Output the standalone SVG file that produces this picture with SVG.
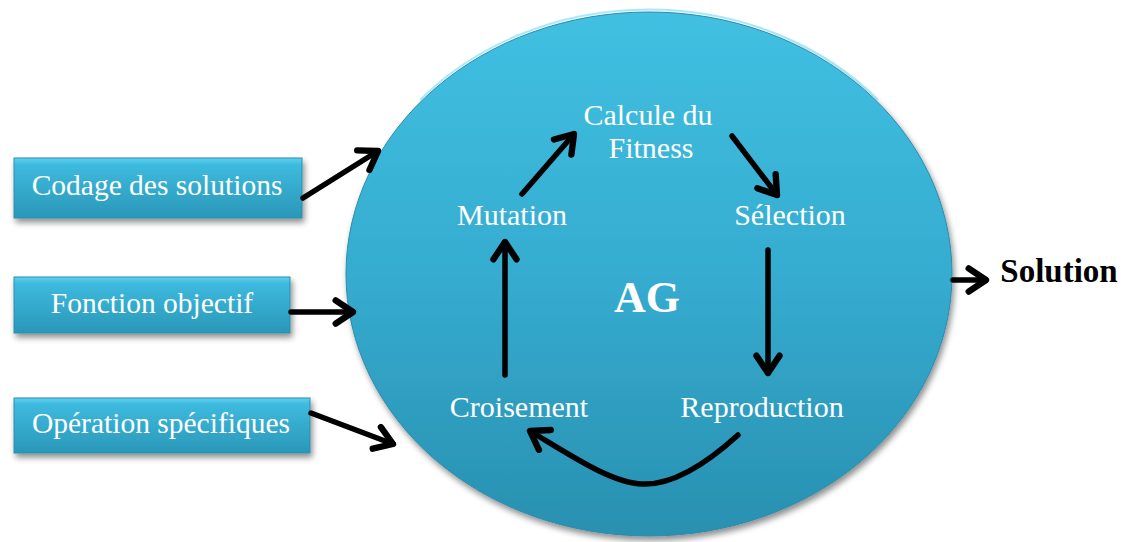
<svg xmlns="http://www.w3.org/2000/svg" width="1127" height="542" viewBox="0 0 1127 542">
<defs>
<linearGradient id="gEll" x1="0" y1="0" x2="0" y2="1">
<stop offset="0" stop-color="#40c0e2"/>
<stop offset="0.5" stop-color="#35acd0"/>
<stop offset="1" stop-color="#2990b0"/>
</linearGradient>
<linearGradient id="gBox" x1="0" y1="0" x2="0" y2="1">
<stop offset="0" stop-color="#5fd0ee"/>
<stop offset="0.12" stop-color="#3dbade"/>
<stop offset="1" stop-color="#2a97b8"/>
</linearGradient>
<filter id="sh" x="-10%" y="-10%" width="130%" height="130%">
<feGaussianBlur in="SourceAlpha" stdDeviation="3"/>
<feOffset dx="2" dy="4" result="b"/>
<feComponentTransfer><feFuncA type="linear" slope="0.45"/></feComponentTransfer>
<feMerge><feMergeNode/><feMergeNode in="SourceGraphic"/></feMerge>
</filter>
<marker id="ah" markerUnits="userSpaceOnUse" markerWidth="30" markerHeight="30" viewBox="-20 -13 24 26" refX="0" refY="0" orient="auto">
<path d="M-15,-10 L0,0 L-15,10" fill="none" stroke="#000" stroke-width="5.5" stroke-linecap="round" stroke-linejoin="round"/>
</marker>
</defs>
<style>
.box{fill:url(#gBox);stroke:#2a8fae;stroke-width:1;filter:url(#sh)}
.bt{font-family:"Liberation Serif","Times New Roman",serif;font-size:29.5px;fill:#fff;text-anchor:middle}
.it{font-family:"Liberation Serif","Times New Roman",serif;font-size:30px;fill:#fff;text-anchor:middle}
.arr{fill:none;stroke:#000;stroke-width:5.5;stroke-linecap:round;marker-end:url(#ah)}
</style>
<rect width="1127" height="542" fill="#fff"/>
<g id="ag">
<ellipse cx="649" cy="274" rx="303" ry="262" fill="url(#gEll)" stroke="#2a8cab" stroke-width="1" filter="url(#sh)"/>
<path d="M420,100 A303,262 0 0 1 878,100" fill="none" stroke="#6fdcf5" stroke-width="2" opacity="0.6"/>
<text x="647" y="312" font-family="Liberation Serif,serif" font-size="44" font-weight="bold" fill="#fff" text-anchor="middle">AG</text>
</g>
<g id="codage">
<rect class="box" x="14" y="158" width="288" height="60"/>
<text class="bt" x="157" y="195">Codage des solutions</text>
</g>
<g id="fonction">
<rect class="box" x="14" y="277" width="276" height="56"/>
<text class="bt" x="152" y="313">Fonction objectif</text>
</g>
<g id="operation">
<rect class="box" x="14" y="398" width="296" height="55"/>
<text class="bt" x="161" y="433">Opération spécifiques</text>
</g>
<g id="calcule"><text class="it" x="648" y="125">Calcule du</text><text class="it" x="651" y="158">Fitness</text></g>
<g id="selection"><text class="it" x="790" y="225">Sélection</text></g>
<g id="reproduction"><text class="it" x="762" y="417">Reproduction</text></g>
<g id="croisement"><text class="it" x="519" y="417">Croisement</text></g>
<g id="mutation"><text class="it" x="512" y="225">Mutation</text></g>
<g id="solution"><text x="1059" y="282" font-family="Liberation Serif,serif" font-size="33" font-weight="bold" fill="#000" text-anchor="middle">Solution</text></g>
<g id="connectors">
<line class="arr" x1="303" y1="198" x2="378" y2="151"/>
<line class="arr" x1="291" y1="312" x2="353" y2="312"/>
<line class="arr" x1="311" y1="413" x2="393" y2="444"/>
<line class="arr" x1="953" y1="280" x2="986" y2="280"/>
<line class="arr" x1="522" y1="194" x2="574" y2="134"/>
<line class="arr" x1="732" y1="136" x2="777" y2="195"/>
<line class="arr" x1="768" y1="250" x2="768" y2="373"/>
<line class="arr" x1="505" y1="375" x2="505" y2="242"/>
<path class="arr" d="M738,435 C705,465 672,485 643,484 C612,483 575,458 530,431"/>
</g>
</svg>
